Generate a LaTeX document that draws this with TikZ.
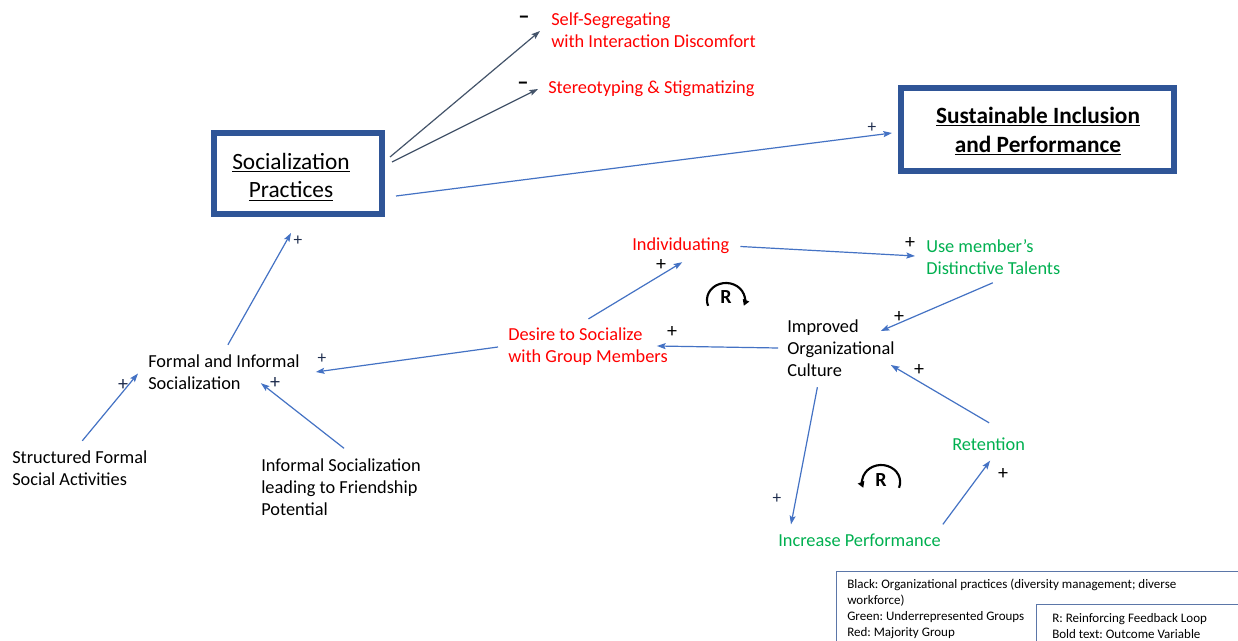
\documentclass[tikz,border=0pt]{standalone}
\usepackage{fontspec}
\setmainfont{Carlito}
\usetikzlibrary{arrows.meta,calc}
\definecolor{boxblue}{HTML}{2F5597}
\definecolor{linkblue}{HTML}{4472C4}
\definecolor{slate}{HTML}{44546A}
\definecolor{majred}{HTML}{FF0000}
\definecolor{urgreen}{HTML}{00B050}
\definecolor{signnavy}{HTML}{1F2D4E}
\definecolor{legendline}{HTML}{5B76A8}
\frenchspacing

\begin{document}
\begin{tikzpicture}[x=0.75pt,y=-0.75pt,
  lbl/.style={inner sep=0pt, anchor=west, align=left, font=\fontsize{13.75}{16.5}\selectfont},
  heading/.style={inner sep=0pt, align=center, font=\fontsize{17.5}{21.4}\selectfont},
  outcome/.style={draw=boxblue, line width=4.5pt, inner sep=0pt},
  link/.style={draw=linkblue, line width=0.9pt, -{Stealth[length=6.5pt,width=4.5pt,inset=1.2pt]}},
  darklink/.style={link, draw=slate},
  plusk/.style={inner sep=0pt, font=\fontsize{15}{16}\selectfont, text=black},
  plusn/.style={inner sep=0pt, font=\fontsize{13}{14}\selectfont, text=signnavy},
  minussign/.style={inner sep=0pt, font=\fontsize{17}{18}\selectfont\bfseries, text=black},
  loopmark/.style={inner sep=0pt, font=\fontsize{15}{16}\selectfont\bfseries},
  looparc/.style={line width=1.6pt, -{Triangle[length=4.5pt,width=5pt]}},
  legendbox/.style={draw=legendline, line width=0.8pt, fill=white},
  legtext/.style={inner sep=0pt, anchor=west, align=left, font=\fontsize{9.75}{12}\selectfont}
]
\clip (0,0) rectangle (1238,641);
\fill[white] (0,0) rectangle (1238,641);

% outcome boxes
\node[outcome, minimum width=126pt, minimum height=60.75pt] (sp) at (298,173.5) {};
\node[heading] (sptext) at (291,177) {\underline{Socialization}\\\underline{Practices}};
\node[outcome, minimum width=204.75pt, minimum height=62.25pt] (sus) at (1037.5,129.5) {};
\node[heading, font=\fontsize{17.5}{21.4}\selectfont\bfseries] (sustext) at (1038,131)
  {\underline{Sustainable Inclusion}\\\underline{and Performance}};

% variables
\node[lbl, text=majred] (selfseg) at (551,30.5) {Self-Segregating\\with Interaction Discomfort};
\node[lbl, text=majred] (stereo) at (548,89) {Stereotyping \& Stigmatizing};
\node[lbl, text=majred] (indiv) at (632,246) {Individuating};
\node[lbl, text=urgreen] (talents) at (926,257) {Use member’s\\Distinctive Talents};
\node[lbl, text=majred] (desire) at (508,347) {Desire to Socialize\\with Group Members};
\node[lbl] (culture) at (787,348.5) {Improved\\Organizational\\Culture};
\node[lbl] (formal) at (148,372.5) {Formal and Informal\\Socialization};
\node[lbl] (structured) at (12,468) {Structured Formal\\Social Activities};
\node[lbl] (friend) at (261,487.5) {Informal Socialization\\leading to Friendship\\Potential};
\node[lbl, text=urgreen] (retention) at (952,444) {Retention};
\node[lbl, text=urgreen] (perf) at (778,540) {Increase Performance};

% links
\draw[darklink] ($(sp.east)+(5,-16.5)$) -- ($(selfseg.west)+(-11,0.5)$);
\draw[darklink] ($(sp.east)+(7,-11.5)$) -- ($(stereo.west)+(-10,0)$);
\draw[link] ($(sp.east)+(11,22.5)$) -- ($(sus.west)+(-6,3.5)$);
\draw[link] ($(formal.north)+(4,-10)$) -- ($(sp.south)+(-7,16)$);
\draw[link] ($(structured.north)+(2.5,-9.5)$) -- ($(formal.west)+(-10,1)$);
\draw[link] ($(friend.north)+(3,-10.5)$) -- ($(formal.south)+(37,-7)$);
\draw[link] ($(desire.west)+(-10,0)$) -- ($(formal.east)+(16,-0.5)$);
\draw[link] ($(desire.north)+(0.5,-9)$) -- ($(indiv.south)+(1.5,8)$);
\draw[link] ($(indiv.east)+(11,0.5)$) -- ($(talents.west)+(-11,-1)$);
\draw[link] ($(talents.south)+(-0.5,8)$) -- ($(culture.east)+(-14,-17.5)$);
\draw[link] ($(culture.west)+(-9,-0.5)$) -- ($(desire.east)+(-11,-1)$);
\draw[link] ($(culture.south)+(-23.5,10)$) -- ($(perf.north west)+(13,-9)$);
\draw[link] ($(perf.north east)+(2,-9)$) -- ($(retention.south)+(1.5,10)$);
\draw[link] ($(retention.north)+(0.5,-14.5)$) -- ($(culture.east)+(-4,16.5)$);

% polarity signs
\node[minussign] (m1) at (524,20) {–};
\node[minussign] (m2) at (523,86) {–};
\node[plusn] (p1) at (872,128) {+};
\node[plusn] (p2) at (298,241) {+};
\node[plusk, text=signnavy] (p3) at (123,385) {+};
\node[plusn] (p4) at (322,359) {+};
\node[plusk, text=signnavy] (p5) at (275,383) {+};
\node[plusk] (p6) at (661,265) {+};
\node[plusk] (p7) at (672,332) {+};
\node[plusk] (p8) at (910,243) {+};
\node[plusk] (p9) at (899,317) {+};
\node[plusk] (p10) at (919,370) {+};
\node[plusn] (p11) at (777,499) {+};
\node[plusk] (p12) at (1003,474) {+};

% reinforcing loops
\node[loopmark] (r1) at (726,297) {R};
\draw[looparc] (708.1,305.8) arc[start angle=160, end angle=380, x radius=19, y radius=17];
\node[loopmark] (r2) at (881,480) {R};
\draw[looparc] (899,487.8) arc[start angle=20, end angle=-200, x radius=19, y radius=17];

% legend
\draw[legendbox] (836.5,571.5) rectangle (1260,660);
\node[legtext] (legA) at (847,608.5) {Black: Organizational practices (diversity management; diverse\\workforce)\\Green: Underrepresented Groups\\Red: Majority Group};
\draw[legendbox] (1036.5,604.5) rectangle (1260,660);
\node[legtext] (legB) at (1052,626.5) {R: Reinforcing Feedback Loop\\Bold text: Outcome Variable};
\end{tikzpicture}
\end{document}
